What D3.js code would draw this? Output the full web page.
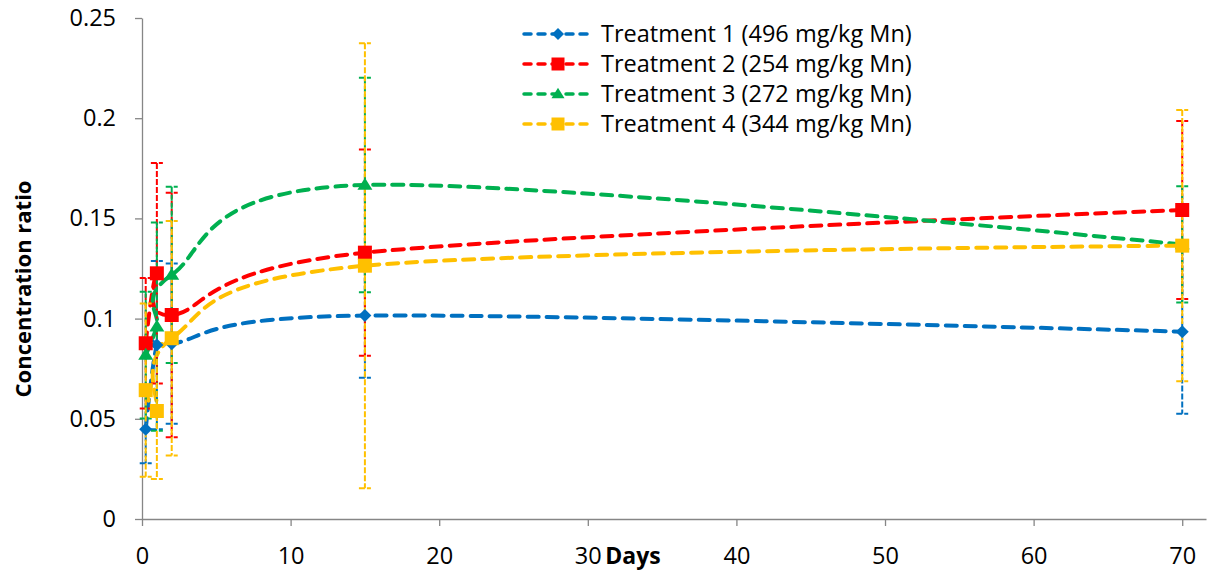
<!DOCTYPE html>
<html>
<head>
<meta charset="utf-8">
<script src="https://cdn.jsdelivr.net/npm/d3@7"></script>
<style>
  body { margin: 0; background: #ffffff; }
  svg { display: block; font-family: "Open Sans", sans-serif; }
</style>
</head>
<body>
<div id="chart"></div>
<script>
// sampling days
var days = [0.25, 1, 2, 15, 70];

// mean concentration ratio per treatment
var t1Values = [0.0448, 0.0868, 0.0875, 0.1015, 0.0935];
var t2Values = [0.0877, 0.1226, 0.1018, 0.1329, 0.1542];
var t3Values = [0.0818, 0.0960, 0.1218, 0.1667, 0.1370];
var t4Values = [0.0643, 0.0539, 0.0902, 0.1264, 0.1364];

// error bar half-widths
var t1Errors = [0.017, 0.042, 0.040, 0.031, 0.041];
var t2Errors = [0.0326, 0.055, 0.061, 0.0515, 0.0444];
var t3Errors = [0.0316, 0.052, 0.044, 0.0535, 0.029];
var t4Errors = [0.0432, 0.0339, 0.0585, 0.111, 0.0677];

var seriesNames = [
    "Treatment 1 (496 mg/kg Mn)",
    "Treatment 2 (254 mg/kg Mn)",
    "Treatment 3 (272 mg/kg Mn)",
    "Treatment 4 (344 mg/kg Mn)"
];

var xTicks = [0, 10, 20, 30, 40, 50, 60, 70];
var yTicks = [0, 0.05, 0.1, 0.15, 0.2, 0.25];
var yTickLabels = ["0", "0.05", "0.1", "0.15", "0.2", "0.25"];

var width = 1208;
var height = 571;
var colors = ["#0070C0", "#FF0000", "#00B050", "#FFC000"];
var shapes = ["diamond", "square", "triangle", "square"];

var series = [
    { name: seriesNames[0], values: t1Values, errors: t1Errors },
    { name: seriesNames[1], values: t2Values, errors: t2Errors },
    { name: seriesNames[2], values: t3Values, errors: t3Errors },
    { name: seriesNames[3], values: t4Values, errors: t4Errors }
];

var svg = d3.select("#chart")
    .append("svg")
    .attr("width", width)
    .attr("height", height);

var x = d3.scaleLinear().domain([0, 71.6]).range([142, 1206]);
var y = d3.scaleLinear().domain([0, 0.25]).range([519, 18]);

// axes
var xAxis = svg.append("g")
    .attr("transform", "translate(0," + y(0) + ")")
    .call(d3.axisBottom(x).tickValues(xTicks).tickSize(7).tickSizeOuter(0).tickPadding(21));
var yAxis = svg.append("g")
    .attr("transform", "translate(" + x(0) + ",0)")
    .call(d3.axisLeft(y).tickValues(yTicks).tickSize(7).tickSizeOuter(0).tickPadding(19)
        .tickFormat(function (d, i) { return yTickLabels[i]; }));

[xAxis, yAxis].forEach(function (g) {
    g.selectAll("path, line").attr("stroke", "#868686").attr("stroke-width", 1.3);
    g.selectAll("text").attr("fill", "#000").style("font-size", "23.5px")
        .style("font-family", "'Open Sans', sans-serif");
});

// axis titles
svg.append("text")
    .attr("x", 633)
    .attr("y", 564)
    .attr("text-anchor", "middle")
    .style("font-size", "23px")
    .style("font-weight", "bold")
    .text("Days");

svg.append("text")
    .attr("transform", "translate(31,289) rotate(-90)")
    .attr("text-anchor", "middle")
    .style("font-size", "22px")
    .style("font-weight", "bold")
    .text("Concentration ratio");

function markerPath(shape, s) {
    if (shape === "diamond") {
        return "M0," + (-s / 2) + "L" + (s / 2) + ",0L0," + (s / 2) + "L" + (-s / 2) + ",0Z";
    }
    if (shape === "triangle") {
        var h = s * 0.8;
        return "M0," + (-h * 0.6) + "L" + (s / 2) + "," + (h * 0.4) + "L" + (-s / 2) + "," + (h * 0.4) + "Z";
    }
    return "M" + (-s / 2) + "," + (-s / 2) + "h" + s + "v" + s + "h" + (-s) + "Z";
}

var line = d3.line()
    .x(function (d, i) { return x(days[i]); })
    .y(function (d) { return y(d); })
    .curve(d3.curveCardinal.tension(0));

// lines
series.forEach(function (s, k) {
    svg.append("path")
        .attr("d", line(s.values))
        .attr("fill", "none")
        .attr("stroke", colors[k])
        .attr("stroke-width", 4)
        .attr("stroke-dasharray", "11,8")
        .attr("stroke-linecap", "round");
});

// error bars
series.forEach(function (s, k) {
    var g = svg.append("g")
        .attr("stroke", colors[k])
        .attr("stroke-width", 2)
        .attr("stroke-dasharray", "6,2");
    s.values.forEach(function (v, i) {
        var cx = x(days[i]);
        var lo = y(v - s.errors[i]);
        var hi = y(v + s.errors[i]);
        g.append("line").attr("x1", cx).attr("x2", cx).attr("y1", hi).attr("y2", lo);
        g.append("line").attr("x1", cx - 6).attr("x2", cx + 6).attr("y1", hi).attr("y2", hi);
        g.append("line").attr("x1", cx - 6).attr("x2", cx + 6).attr("y1", lo).attr("y2", lo);
    });
});

// markers
series.forEach(function (s, k) {
    var size = shapes[k] === "diamond" ? 13 : (shapes[k] === "triangle" ? 15 : 14);
    svg.append("g")
        .selectAll("path")
        .data(s.values)
        .enter()
        .append("path")
        .attr("d", markerPath(shapes[k], size))
        .attr("transform", function (d, i) { return "translate(" + x(days[i]) + "," + y(d) + ")"; })
        .attr("fill", colors[k]);
});

// legend
var legend = svg.append("g");
series.forEach(function (s, k) {
    var ly = 34 + k * 30;
    legend.append("line")
        .attr("x1", 524).attr("x2", 592)
        .attr("y1", ly).attr("y2", ly)
        .attr("stroke", colors[k])
        .attr("stroke-width", 3.5)
        .attr("stroke-dasharray", "7,7")
        .attr("stroke-linecap", "round");
    legend.append("path")
        .attr("d", markerPath(shapes[k], shapes[k] === "diamond" ? 12 : 13))
        .attr("transform", "translate(558," + ly + ")")
        .attr("fill", colors[k]);
    legend.append("text")
        .attr("x", 601)
        .attr("y", ly)
        .attr("dy", "0.35em")
        .style("font-size", "23.5px")
        .text(s.name);
});
</script>
</body>
</html>
